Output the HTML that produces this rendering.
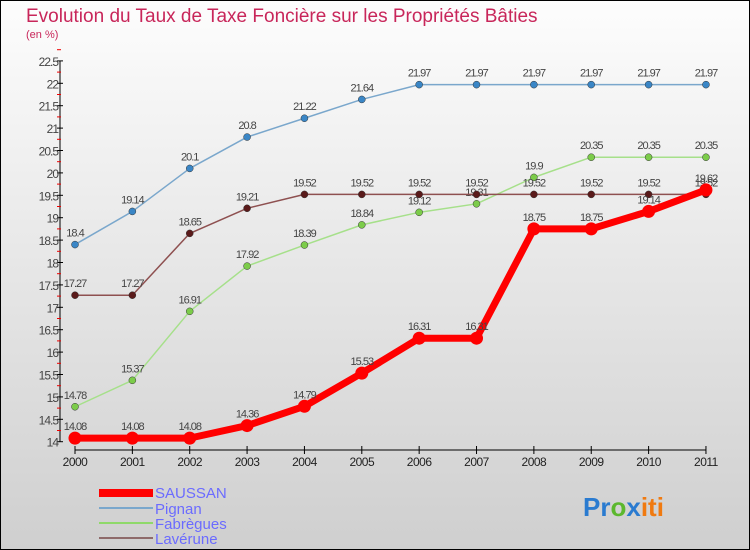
<!DOCTYPE html>
<html><head><meta charset="utf-8"><style>
body{margin:0;width:750px;height:550px;overflow:hidden}
svg{display:block;font-family:"Liberation Sans",sans-serif}
</style></head><body>
<svg width="750" height="550" viewBox="0 0 750 550">
<defs><linearGradient id="bg" x1="0" y1="0" x2="0" y2="1"><stop offset="0" stop-color="#fdfdfd"/><stop offset="1" stop-color="#cfcfcf"/></linearGradient></defs>
<rect x="0.5" y="0.5" width="749" height="549" fill="url(#bg)" stroke="#000"/>
<text x="26" y="22" font-size="19" fill="#c8265a">Evolution du Taux de Taxe Foncière sur les Propriétés Bâties</text>
<text x="26" y="38" font-size="11" fill="#c8265a">(en %)</text>
<g id="axes"></g><g id="series"></g>
<g>
<rect x="99" y="489" width="54" height="8" fill="#f00"/>
<text x="155" y="498" font-size="15" fill="#6b6bff">SAUSSAN</text>
<rect x="99" y="507" width="54" height="2" fill="#7aa7cc"/>
<text x="155" y="514" font-size="15" fill="#6b6bff">Pignan</text>
<rect x="99" y="522" width="54" height="2" fill="#8fd96a"/>
<text x="155" y="529" font-size="15" fill="#6b6bff">Fabrègues</text>
<rect x="99" y="537" width="54" height="2" fill="#8e6a6a"/>
<text x="155" y="544" font-size="15" fill="#6b6bff">Lavérune</text>
</g>
<text x="583" y="516" font-size="26" font-weight="bold"><tspan fill="#2a7bd0">Pr</tspan><tspan fill="#5cb82e">o</tspan><tspan fill="#2a7bd0">x</tspan><tspan fill="#f07a10">iti</tspan></text>
</svg>
<script>
const years=[2000,2001,2002,2003,2004,2005,2006,2007,2008,2009,2010,2011];
const saussan=[14.08,14.08,14.08,14.36,14.79,15.53,16.31,16.31,18.75,18.75,19.14,19.62];
const pignan=[18.4,19.14,20.1,20.8,21.22,21.64,21.97,21.97,21.97,21.97,21.97,21.97];
const fabregues=[14.78,15.37,16.91,17.92,18.39,18.84,19.12,19.31,19.9,20.35,20.35,20.35];
const laverune=[17.27,17.27,18.65,19.21,19.52,19.52,19.52,19.52,19.52,19.52,19.52,19.52];
const yTicks=[14,14.5,15,15.5,16,16.5,17,17.5,18,18.5,19,19.5,20,20.5,21,21.5,22,22.5];
const NS="http://www.w3.org/2000/svg";
const X=i=>75+i*57.36, Y=v=>441.7-(v-14)*44.8;
function mk(t,a,p){const e=document.createElementNS(NS,t);for(const k in a)e.setAttribute(k,a[k]);p.appendChild(e);return e;}
const ax=document.getElementById('axes');
const yl=mk('line',{x1:60,y1:Y(22.5),x2:60,y2:Y(14),stroke:'#000'},ax);


yTicks.forEach(v=>{
 mk('line',{x1:57,x2:63,y1:Y(v),y2:Y(v),stroke:'#000'},ax);
 mk('line',{x1:57,x2:61,y1:Y(v+0.25),y2:Y(v+0.25),stroke:'#e00'},ax);
 const t=mk('text',{x:58,y:Y(v)+5,'text-anchor':'end','font-size':12,fill:'#444','letter-spacing':'-1'},ax);
 t.textContent=v;
 
 
});
const xl=mk('line',{x1:X(0),x2:X(11),y1:450,y2:450,stroke:'#000'},ax);


years.forEach((y,i)=>{
 mk('line',{x1:X(i),x2:X(i),y1:446,y2:454,stroke:'#000'},ax);
 const t=mk('text',{x:X(i),y:466,'text-anchor':'middle','font-size':12,fill:'#222','letter-spacing':'-0.5'},ax);
 t.textContent=y;
 
 
});
const sg=document.getElementById('series');
function draw(data,name,col,dot,w,r){
 const g=mk('g',{},sg);
 
 
 mk('polyline',{points:data.map((v,i)=>X(i)+','+Y(v)).join(' '),fill:'none',stroke:col,'stroke-width':w,'stroke-linejoin':'round'},g);
 data.forEach((v,i)=>{
  const c=mk('circle',{cx:X(i),cy:Y(v),r:r,fill:dot,stroke:'#333','stroke-width':w>4?0:0.5},g);
  
  
  const t=mk('text',{x:X(i),y:Y(v)-8,'text-anchor':'middle','font-size':11,fill:'#444','letter-spacing':'-1'},g);
  t.textContent=v;
  
  
 });
}
draw(pignan,'pignan','#7aa7cc','#3a86c6',1.5,3.5);
draw(fabregues,'fabregues','#a6e08a','#7ccc4a',1.5,3.5);
draw(laverune,'laverune','#8e5050','#5a1a1a',1.5,3.5);
draw(saussan,'saussan','#f00','#f00',7,6.5);
</script>
</body></html>
